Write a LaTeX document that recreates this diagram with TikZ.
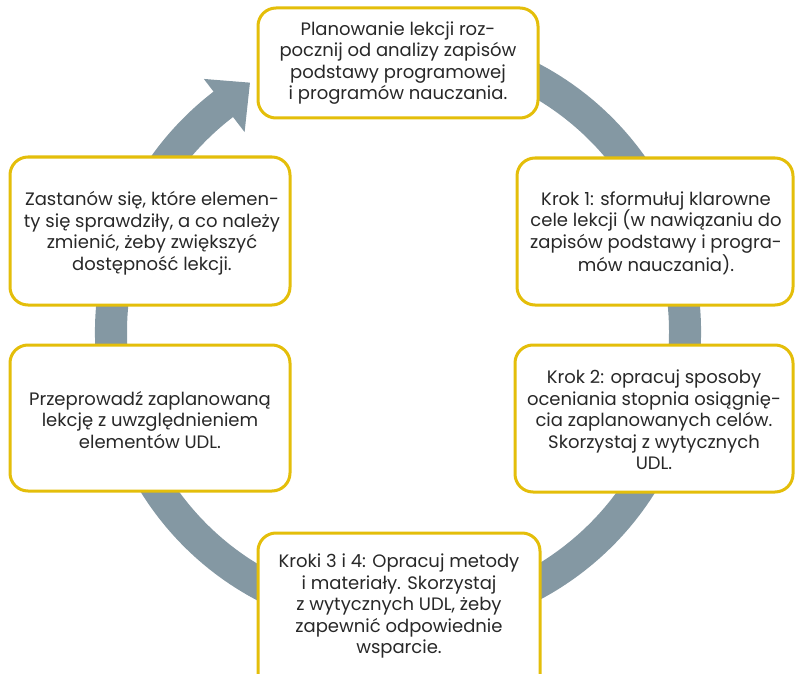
\documentclass[tikz,border=0pt]{standalone}
\usepackage{fontspec}
\setmainfont{Poppins}
\definecolor{ringc}{RGB}{132,152,163}
\definecolor{boxc}{RGB}{228,190,10}
\definecolor{txtc}{RGB}{40,40,40}
\begin{document}
\begin{tikzpicture}[x=1pt,y=-1pt,
  stepbox/.style={draw=boxc,line width=3pt,rounded corners=18pt,fill=white},
  boxtext/.style={text=txtc,align=center,font=\fontsize{18}{21.5}\selectfont}]
\useasboundingbox (0,0) rectangle (795,674);
\clip (0,0) rectangle (795,674);
% ring arrow
\begin{scope}[shift={(398,332)}]
\fill[ringc] (-80:303) arc[start angle=-80,end angle=232.5,radius=303]
  -- (232.5:319) -- (239.3:290) -- (232.5:252) -- (232.5:271)
  arc[start angle=232.5,end angle=-80,radius=271] -- cycle;
\end{scope}
% boxes
\draw[stepbox] (258,8) rectangle (538,118);
\draw[stepbox] (517,158) rectangle (793,305);
\draw[stepbox] (10,157) rectangle (290,305);
\draw[stepbox] (10,345) rectangle (290,491);
\draw[stepbox] (515,345) rectangle (793,492);
\draw[stepbox] (258,533) rectangle (540,700);
% texts
\node[boxtext] (top) at (398,63) {Planowanie lekcji roz-\\pocznij od analizy zapisów\\podstawy programowej\\i programów nauczania.};
\node[boxtext] (k1) at (656,233) {Krok 1: sformułuj klarowne\\cele lekcji (w nawiązaniu do\\zapisów podstawy i progra-\\mów nauczania).};
\node[boxtext] (zas) at (152,233) {Zastanów się, które elemen-\\ty się sprawdziły, a co należy\\zmienić, żeby zwiększyć\\dostępność lekcji.};
\node[boxtext] (prz) at (150,420) {Przeprowadź zaplanowaną\\lekcję z uwzględnieniem\\elementów UDL.};
\node[boxtext] (k2) at (654,420) {Krok 2: opracuj sposoby\\oceniania stopnia osiągnię-\\cia zaplanowanych celów.\\Skorzystaj z wytycznych\\UDL.};
\node[boxtext] (k34) at (399,606) {Kroki 3 i 4: Opracuj metody\\i materiały. Skorzystaj\\z wytycznych UDL, żeby\\zapewnić odpowiednie\\wsparcie.};
\end{tikzpicture}
\end{document}
